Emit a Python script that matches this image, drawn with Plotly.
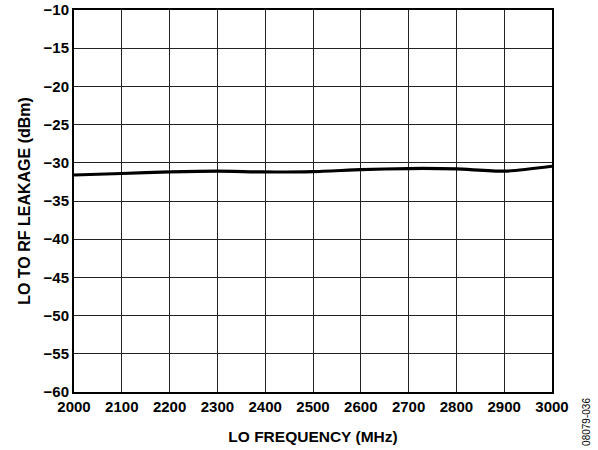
import plotly.graph_objects as go

freq_mhz = [2000, 2100, 2200, 2300, 2400, 2500, 2600, 2700, 2800, 2900, 3000]
leakage_dbm = [-31.6, -31.4, -31.2, -31.1, -31.2, -31.15, -30.9, -30.75, -30.8, -31.1, -30.45]

x_ticks = [2000, 2100, 2200, 2300, 2400, 2500, 2600, 2700, 2800, 2900, 3000]
y_ticks = [-60, -55, -50, -45, -40, -35, -30, -25, -20, -15, -10]
y_tick_text = ["\u2212" + str(abs(v)) for v in y_ticks]

FONT = "Liberation Sans, Arial, sans-serif"

fig = go.Figure()
fig.add_trace(go.Scatter(
    x=freq_mhz, y=leakage_dbm, mode="lines",
    line=dict(color="black", width=3.2, shape="spline", smoothing=0.6),
    showlegend=False, hoverinfo="skip",
))

fig.update_layout(
    width=598, height=450,
    margin=dict(l=74, r=46, t=10, b=58, autoexpand=False),
    paper_bgcolor="white", plot_bgcolor="white",
    font=dict(family=FONT, color="black"),
    xaxis=dict(
        range=[2000, 3000], tickvals=x_ticks, ticktext=[str(v) for v in x_ticks],
        showgrid=True, gridcolor="#222222", gridwidth=1,
        showline=True, linecolor="black", linewidth=2, mirror=True,
        ticks="", zeroline=False, automargin=False,
        tickfont=dict(size=15, family=FONT, weight="bold"),
        title=dict(text="<b>LO FREQUENCY (MHz)</b>", font=dict(size=15.5, family=FONT), standoff=17),
    ),
    yaxis=dict(
        range=[-60, -10], tickvals=y_ticks, ticktext=y_tick_text,
        showgrid=True, gridcolor="#222222", gridwidth=1,
        showline=True, linecolor="black", linewidth=2, mirror=True,
        ticks="", zeroline=False, automargin=False, ticklabeloverflow="allow",
        tickfont=dict(size=15, family=FONT, weight="bold"),
        title=dict(text="<b>LO TO RF LEAKAGE (dBm)</b>", font=dict(size=16, family=FONT), standoff=9),
    ),
)

fig.add_annotation(
    text="08079-036", xref="paper", yref="paper",
    x=1.073, y=-0.0785, xanchor="center", yanchor="middle",
    textangle=-90, showarrow=False,
    font=dict(size=10, family=FONT, color="black"),
)

# remove the page's default 8px body margin so the figure sits at the window's top-left
fig.write_html("out.html", config={"displayModeBar": False},
               post_script="document.body.style.margin='0';")
